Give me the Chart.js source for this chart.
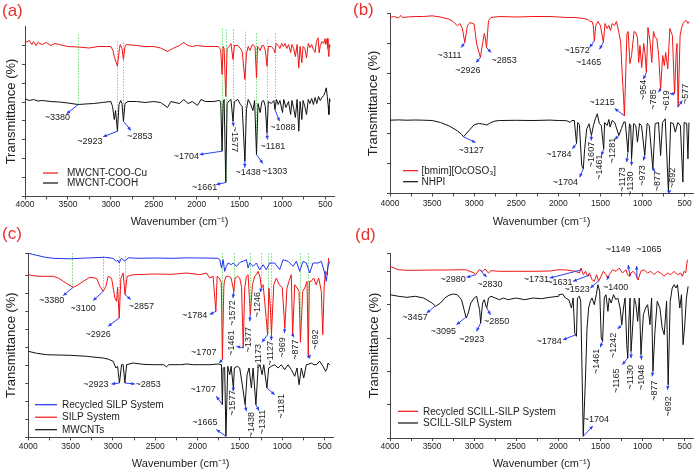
<!DOCTYPE html>
<html>
<head>
<meta charset="utf-8">
<script src="https://cdn.jsdelivr.net/npm/chart.js@4/dist/chart.umd.min.js"></script>
<style>
  body { margin: 0; background: #fff; width: 696px; height: 476px; position: relative; overflow: hidden; }
  canvas { position: absolute; }
</style>
</head>
<body>
<canvas id="pa" width="348" height="238" style="left:0;top:0;width:348px;height:238px"></canvas>
<canvas id="pb" width="348" height="238" style="left:348px;top:0;width:348px;height:238px"></canvas>
<canvas id="pc" width="348" height="250" style="left:0;top:226px;width:348px;height:250px"></canvas>
<canvas id="pd" width="348" height="250" style="left:348px;top:226px;width:348px;height:250px"></canvas>
<script>
// ---- panel (a): [wavenumber, transmittance (arb.)]
const aCu = [[4000,153.7],[3950,156],[3920,152],[3900,155],[3870,151],[3850,154],[3800,152],[3750,154],[3700,151],[3650,153],[3600,152],[3500,150],[3380,149.5],[3250,148.5],[3150,150],[3050,150],[3000,150],[2975,146],[2960,140],[2923,130.3],[2900,148],[2890,152],[2870,148],[2853,137],[2835,150],[2820,152],[2700,151],[2600,150],[2500,150],[2420,148.5],[2340,145],[2280,148],[2200,151],[2150,154],[2100,151],[2050,150],[2000,151],[1900,150],[1800,150],[1750,150],[1720,147],[1704,122],[1692,150],[1680,148],[1661,100],[1645,148],[1620,150],[1600,153],[1577,137],[1560,151],[1520,151],[1490,148],[1470,145],[1438,117],[1420,143],[1400,150],[1380,146],[1350,152],[1320,150],[1303,118.7],[1290,150],[1260,146],[1240,151],[1220,151],[1200,146],[1181,130.3],[1165,150],[1130,150],[1100,147],[1088,143.7],[1075,153],[1050,151],[1030,148],[1010,153],[990,150],[970,153],[950,148],[930,152],[905,144],[890,152],[870,148],[850,140],[830,152],[810,128.7],[795,150],[775,133.7],[760,150],[740,148],[720,138.7],[700,153],[680,149],[660,152],[640,147],[620,144],[605,155],[585,158.7],[573,143.7],[560,151],[540,155],[520,153],[505,157.7],[495,152],[480,158],[470,148],[460,140],[452,152],[445,150]];
const aCooh = [[4000,97.7],[3950,96],[3900,97],[3850,95.5],[3800,96],[3700,95],[3600,94.5],[3500,93.5],[3380,92],[3300,92.5],[3200,93],[3100,94],[3000,95],[2980,90],[2960,77],[2945,86],[2923,65.3],[2905,92],[2885,96],[2870,93],[2853,75.3],[2835,93],[2800,95],[2700,95],[2600,94],[2500,95],[2420,94],[2340,89],[2300,95],[2200,93],[2150,97],[2100,93],[2050,95],[1990,91],[1950,97],[1900,95],[1800,95],[1740,96],[1720,95],[1704,45.3],[1692,93],[1680,97],[1661,14],[1645,93],[1620,96],[1600,97],[1577,75.3],[1560,95],[1520,97],[1490,92],[1470,90],[1438,35.3],[1420,87],[1400,97],[1375,93],[1345,86],[1325,96],[1303,42],[1285,93],[1260,84],[1240,95],[1220,96],[1200,90],[1181,63.7],[1165,95],[1130,93],[1100,96],[1088,87],[1070,97],[1050,92],[1030,96],[1000,84],[985,97],[960,89],[930,95],[905,82],[890,96],[870,88],[850,79],[830,97],[810,65.3],[795,95],[775,77],[760,96],[740,90],[720,82],[700,97],[680,93],[660,98],[640,92],[620,99],[600,93],[580,100],[560,96],[540,99],[520,101],[505,104],[490,108.7],[478,100],[468,91],[460,82],[452,98],[445,95]];
const aGuide = [[3380,162,92],[2923,155,65.3],[2853,154,75.3],[1704,168,45.3],[1661,167,14],[1577,167,75.3],[1438,165,35.3],[1303,163,42],[1181,157,63.7],[1088,163,87]];
// [text, peak wn, peak T, head wn, head T, label wn, label T, rotation]
const aNotes = [
  ['~3380',3380,92,3516,82.7,3624,78.7,0], ['~2923',2923,65.3,3089,59.7,3244,55.3,0],
  ['~2853',2853,75.3,2767,66,2663,60.3,0], ['~1704',1704,45.3,1965,42,2120,40.3,0],
  ['~1661',1661,14,1771,12,1907,8.7,0], ['~1577',1577,75.3,1570,70,1555,57,90],
  ['~1438',1438,35.3,1440,29,1400,23.7,0], ['~1303',1303,42,1229,33,1093,25.3,0],
  ['~1181',1181,63.7,1175,57,1112,50.3,0], ['~1088',1088,87,1035,75.3,996,68.7,0]
];

// ---- panel (b)
const bIl = [[4000,176],[3950,177],[3900,175.5],[3870,178],[3850,176],[3800,176.5],[3700,177],[3600,177],[3500,177.7],[3400,176.5],[3300,174.3],[3250,172],[3200,167.7],[3170,170],[3140,165],[3111,151],[3080,168],[3050,171],[3000,169.3],[2970,149.3],[2945,142],[2926,136],[2900,150],[2880,160],[2870,157],[2853,146],[2830,172.7],[2800,176],[2700,177],[2500,176.5],[2300,177],[2100,177],[2000,176.5],[1900,176],[1800,176],[1700,175],[1650,174],[1620,172],[1600,172],[1585,168],[1572,152.7],[1555,168],[1530,172],[1500,168],[1465,151.4],[1445,170],[1420,165],[1400,168],[1380,163],[1360,170],[1335,168],[1310,172],[1290,165],[1260,152],[1240,118],[1225,96],[1215,77.7],[1200,118],[1185,160],[1170,162],[1150,130],[1130,138],[1100,162],[1080,161],[1060,156],[1045,131],[1030,148],[1010,126],[985,150],[970,140],[954,121],[935,166],[910,152],[890,131],[870,162],[850,156],[830,155],[808,138],[785,104.7],[760,138],[740,128],[725,141],[700,124.7],[675,165],[645,158],[619,99.7],[600,141],[590,150],[577,86.4],[553,158],[535,166],[518,170],[500,172],[478,173],[460,170],[443,172]];
const bNhpi = [[4000,73.3],[3900,73.6],[3800,73.3],[3700,73.5],[3600,73.3],[3500,73],[3400,71],[3300,67.7],[3200,62.7],[3150,59.3],[3127,56.7],[3100,59.3],[3050,64],[3000,68.7],[2950,70],[2900,69.5],[2850,68.5],[2800,71],[2750,72.5],[2700,73],[2500,73.2],[2300,73],[2100,73.4],[2000,73],[1900,72.8],[1860,71],[1840,73],[1810,73],[1784,50],[1770,71],[1750,69],[1722,28],[1704,24.7],[1687,44.7],[1663,64.7],[1635,69.7],[1607,58],[1583,68],[1560,74.7],[1537,79.7],[1513,70],[1490,68],[1461,44.7],[1450,71],[1420,68],[1400,74],[1385,66.4],[1360,73],[1330,71],[1281,58],[1250,65],[1222,71.4],[1205,71.4],[1173,41.4],[1155,69.7],[1140,68],[1130,34.7],[1105,70],[1080,68],[1060,51.4],[1035,70],[1012,68],[973,38],[945,70],[920,68],[877,24.7],[850,69.7],[810,71],[785,38],[762,71],[730,74.7],[692,1.4],[665,71],[635,70],[610,61.4],[580,71],[550,68],[520,11.4],[505,71],[475,70],[460,34.7],[448,71]];
const bNotes = [
  ['~3111',3111,151,3154,146,3292,137.7,0], ['~2926',2926,136,2977,131,3076,122.7,0],
  ['~2853',2853,146,2800,141,2643,133.3,0], ['~1572',1572,152.7,1628,146,1778,142.7,0],
  ['~1465',1465,151.4,1510,144.3,1640,131,0], ['~1215',1215,77.7,1330,85,1480,90.7,0],
  ['~954',954,121,990,114.3,990,103.7,-90], ['~785',785,104.7,810,101.3,869,94,-90],
  ['~619',619,99.7,673,99.7,712,93,-90], ['~577',577,86.4,527,93,488,99.7,-90],
  ['~3127',3127,56.7,2985,51,3036,42.7,0], ['~1784',1784,50,1833,44.7,1994,38.7,0],
  ['~1704',1704,24.7,1746,16.3,1916,11,0], ['~1607',1607,58,1609,53,1609,39,-90],
  ['~1461',1461,44.7,1487,38,1505,26.4,-90], ['~1281',1281,58,1330,54,1353,43,-90],
  ['~1173',1173,41.4,1188,31.4,1235,14,-90], ['~1130',1130,34.7,1130,28,1137,9.7,-90],
  ['~973',973,38,990,33,999,18,-90], ['~877',877,24.7,850,22,822,12.4,-90],
  ['~692',692,1.4,660,3,642,15.7,-90]
];

// ---- panel (c)
const cRec = [[4000,184.3],[3950,183],[3900,182],[3800,180],[3700,179],[3600,178.7],[3500,178.5],[3380,179],[3250,179.5],[3100,180],[3000,179],[2960,176],[2940,177],[2926,174.3],[2900,179],[2857,176],[2820,179.5],[2700,179],[2500,179.3],[2300,179],[2100,179.5],[2000,179.3],[1900,179.3],[1760,179],[1738,177.6],[1718,169.3],[1698,177.6],[1680,166],[1660,171],[1640,174.3],[1600,172.6],[1580,174.3],[1540,171],[1500,175],[1462,176],[1423,177.6],[1403,169.3],[1384,174.3],[1344,171],[1305,174.3],[1266,167.6],[1226,172.6],[1187,167.6],[1148,174.3],[1089,174.3],[1030,167.6],[990,177.6],[931,176],[872,171],[833,176],[793,166],[754,176],[715,174.3],[675,164.3],[636,174.3],[577,174.3],[538,176],[498,164.3],[479,156],[459,171],[440,176]];
const cSilp = [[4000,162.6],[3930,161.5],[3862,161],[3780,161],[3705,161],[3640,159],[3587,156],[3530,153],[3469,150],[3420,152],[3351,156],[3272,160],[3193,159],[3154,151],[3115,146],[3083,151],[3056,161],[3016,159],[2977,139.3],[2957,136],[2945,150],[2926,119.3],[2906,159],[2879,164.3],[2857,142.6],[2832,161],[2761,162.6],[2600,163],[2525,163.3],[2300,163],[2131,164.3],[1975,162.6],[1896,164.3],[1856,159.3],[1817,161],[1784,126],[1769,161],[1745,159.3],[1720,155],[1707,77.7],[1690,150],[1683,156],[1663,161],[1632,161],[1604,159.3],[1572,146],[1557,159.3],[1530,161],[1502,159.3],[1480,150],[1461,89.3],[1443,149.3],[1423,161],[1403,162.6],[1377,122.6],[1352,152.6],[1325,161],[1305,162.6],[1285,166],[1262,160],[1246,149.3],[1226,152.6],[1207,136],[1190,120],[1173,102.6],[1157,149.3],[1140,130],[1127,102.6],[1100,152.6],[1069,159.3],[1037,152.6],[1000,150],[969,109.3],[944,149.3],[920,156],[893,162.6],[877,102.6],[852,152.6],[825,149.3],[801,146],[785,95],[758,146],[734,149.3],[707,156],[692,79.3],[679,156],[656,156],[628,159.3],[600,152.6],[569,159.3],[538,146],[521,102.6],[505,149.3],[490,166],[470,162.6],[451,179.3]];
const cMw = [[4000,86],[3900,84],[3783,82.6],[3650,82.3],[3508,82],[3400,81.5],[3311,81],[3200,80],[3115,79.3],[3050,78],[2997,76],[2965,69.3],[2945,71],[2923,54.3],[2898,72.6],[2879,72.6],[2859,54.3],[2839,72.6],[2761,74.3],[2650,73],[2525,72.6],[2400,72.6],[2367,70.5],[2340,72.6],[2200,72.6],[2131,73.3],[2050,72.6],[1974,72.6],[1900,72.6],[1856,72.6],[1757,73.3],[1718,72.6],[1707,32.6],[1698,69.3],[1680,70],[1665,1],[1643,71],[1620,62.6],[1604,71],[1577,49.3],[1565,69.3],[1530,71],[1502,69.3],[1478,56],[1438,32.6],[1415,62.6],[1392,69.3],[1364,49.3],[1344,69.3],[1311,32.6],[1285,69.3],[1262,72.6],[1238,62.6],[1218,72.6],[1181,49.3],[1160,69.3],[1128,71],[1089,72.6],[1049,69.3],[1010,72.6],[971,67.6],[931,72.6],[892,67.6],[852,61],[825,69.3],[801,52.6],[774,69.3],[746,59.3],[715,72.6],[690,73],[656,74.3],[625,72.6],[597,72.6],[557,76],[518,71],[487,66],[470,69],[459,74.3],[440,72.6]];
const cGuide = [[3480,184,150],[3115,181,146],[2930,181,119.3],[2855,181,142.6],[1707,184,77.7],[1572,184,146],[1377,184,122.6],[1246,184,149.3],[1173,184,102.6],[1127,184,102.6],[785,184,95],[692,184,79.3]];
const cNotes = [
  ['~3380',3469,150,3587,141.7,3725,136.7,0], ['~3100',3115,146,3233,136.7,3351,128.3,0],
  ['~2926',2926,119.3,3056,111,3174,102.7,0], ['~2857',2857,142.6,2789,137.7,2663,130.3,0],
  ['~2923',2923,54.3,3017,53.3,3202,52.7,0], ['~2853',2859,54.3,2741,53.3,2584,52.7,0],
  ['~1784',1784,126,1856,122.7,2034,122,0], ['~1707',1707,77.7,1746,74.3,1927,84.3,0],
  ['~1707',1707,32.6,1778,41,1935,47.7,0], ['~1665',1665,1,1778,7.7,1915,14.3,0],
  ['~1572',1572,146,1581,139.3,1593,124.3,-90], ['~1461',1461,89.3,1541,91,1600,94.3,-90],
  ['~1377',1377,122.6,1384,116,1396,97.6,-90], ['~1246',1246,149.3,1262,145,1296,132.6,-90],
  ['~1173',1173,102.6,1240,95,1275,81,-90], ['~1127',1127,102.6,1130,97,1140,84,-90],
  ['~969',969,109.3,975,104.3,998,90,-90], ['~877',877,102.6,860,100,845,87.6,-90],
  ['~692',692,79.3,664,82.6,609,97.6,-90], ['~1577',1577,49.3,1580,46,1593,34.3,-90],
  ['~1438',1438,32.6,1423,26,1357,12.6,-90], ['~1311',1311,32.6,1274,26.6,1227,15.3,-90],
  ['~1181',1181,49.3,1089,42.6,1010,31,-90]
];

// ---- panel (d)
const dRec = [[4000,171.7],[3950,170],[3900,168.3],[3800,167.7],[3700,167.7],[3500,168],[3300,168],[3100,168.3],[3050,166.7],[3000,165],[2980,163.3],[2960,166],[2940,168.3],[2900,166.7],[2870,169],[2830,165],[2800,167.3],[2700,166.7],[2500,166.7],[2300,166.7],[2100,167],[1994,168.3],[1900,168],[1797,166.7],[1750,165],[1731,170],[1702,163.3],[1678,166.7],[1651,161.7],[1631,165],[1600,158.3],[1572,156.7],[1545,163.3],[1521,156.7],[1493,161.7],[1465,166.7],[1434,163.3],[1414,160],[1395,163.3],[1355,168.3],[1316,166.7],[1277,170],[1237,165],[1198,168.3],[1178,163.3],[1149,161.7],[1139,165],[1111,166.7],[1079,163.3],[1065,160],[1052,158],[1020,166.7],[981,168.3],[941,165],[902,166.7],[862,163.3],[823,166.7],[783,165],[744,161.7],[704,165],[665,163.3],[625,166.7],[586,163.3],[546,165],[526,161.7],[507,166.7],[487,165],[467,178.3]];
const dScill = [[4000,143.3],[3900,141.7],[3800,140.7],[3700,141.7],[3600,140],[3500,135],[3457,131.7],[3400,135],[3350,140],[3300,142.7],[3250,144],[3200,143.3],[3150,138.3],[3120,128.3],[3095,120],[3070,125],[3040,135],[3000,140],[2970,141.7],[2950,133.3],[2935,128.3],[2923,115],[2900,135],[2880,138.3],[2860,131.7],[2850,130],[2830,140],[2800,141.7],[2700,138.3],[2650,140],[2600,138.3],[2500,140],[2400,138.3],[2300,140],[2200,139.3],[2100,140.7],[2000,141.7],[1994,143.3],[1950,144],[1915,140],[1876,138.3],[1844,130],[1824,140],[1805,105],[1785,101.7],[1773,140],[1750,141.7],[1734,136.7],[1704,1.7],[1679,56.7],[1659,110],[1640,130],[1620,136.7],[1600,140],[1573,133.3],[1549,143.3],[1529,153.3],[1509,146.7],[1490,100],[1474,96.7],[1454,140],[1434,143.3],[1411,126.7],[1395,140],[1372,135],[1344,143.3],[1317,138.3],[1293,140],[1266,130],[1246,113.3],[1226,130],[1207,140],[1187,93.3],[1175,80],[1160,120],[1148,140],[1136,86.7],[1120,106.7],[1097,140],[1077,133.3],[1057,116.7],[1038,140],[1018,83.3],[990,123.3],[963,130],[939,133.3],[911,113.3],[892,140],[876,66.7],[852,106.7],[825,136.7],[793,130],[766,110],[742,103.3],[714,136.7],[695,53.3],[671,136.7],[647,150],[624,153.3],[604,150],[584,153.3],[557,130],[537,143.3],[518,93.3],[498,113.3],[478,140],[458,151.7]];
const dNotes = [
  ['~2980',2980,163.3,3090,160.7,3249,158.3,0], ['~2830',2930,168,2853,161,2813,153.3,0],
  ['~1731',1731,168,2102,160,2260,158.3,0], ['~1631',1631,163,1825,156.7,1983,155.7,0],
  ['~1523',1523,157,1620,150,1778,148,0], ['~1400',1400,162,1424,158.3,1320,150.7,0],
  ['~1149',1149,161.7,1170,173,1290,188.5,0], ['~1065',1065,160,1070,172,925,188.5,0],
  ['~3457',3466,131.7,3565,125,3703,120,0], ['~3095',3110,120,3209,113.3,3367,106.7,0],
  ['~2923',2923,115,2972,106.7,3031,98.3,0], ['~2850',2850,130,2806,123.3,2734,116.7,0],
  ['~1784',1790,103.3,1943,98.3,2110,96,0], ['~1704',1704,1.7,1590,12,1548,18.3,0],
  ['~1461',1474,96.7,1502,90.7,1542,76.7,-90], ['~1242',1246,113.3,1294,109,1345,92.7,-90],
  ['~1165',1175,80,1239,73.3,1306,57.3,-90], ['~1130',1136,86.7,1136,80,1148,60.7,-90],
  ['~1046',1018,83.3,1011,78.3,1011,60.7,-90], ['~877',876,66.7,885,61.7,853,47.3,-90],
  ['~692',695,53.3,704,48.3,696,31.7,-90]
];

const FONT = "'Liberation Sans', Arial, Helvetica, sans-serif";
const RED = '#f21414', BLACK = '#111111', BLUE = '#1f33f0', ARROW = '#2b40f2';

function arrow(ctx, x0, y0, x1, y1) {
    ctx.beginPath();
    ctx.moveTo(x0, y0);
    ctx.lineTo(x1, y1);
    ctx.stroke();
    const a = Math.atan2(y1 - y0, x1 - x0), s = 4;
    ctx.beginPath();
    ctx.moveTo(x1, y1);
    ctx.lineTo(x1 - s * Math.cos(a - 0.45), y1 - s * Math.sin(a - 0.45));
    ctx.lineTo(x1 - s * Math.cos(a + 0.45), y1 - s * Math.sin(a + 0.45));
    ctx.closePath();
    ctx.fill();
}

// guide lines, arrows, peak labels, legend and panel letter
const decor = {
    id: 'decor',
    beforeDatasetsDraw(chart, args, opt) {
        const { ctx, scales: { x, y } } = chart;
        ctx.save();
        ctx.strokeStyle = '#6ee06e';
        ctx.lineWidth = 1;
        ctx.setLineDash([1.5, 1.5]);
        (opt.guides || []).forEach(g => {
            const px = Math.round(x.getPixelForValue(g[0])) + 0.5;
            ctx.beginPath();
            ctx.moveTo(px, y.getPixelForValue(g[1]));
            ctx.lineTo(px, y.getPixelForValue(g[2]));
            ctx.stroke();
        });
        ctx.restore();
    },
    afterDatasetsDraw(chart, args, opt) {
        const { ctx, scales: { x, y } } = chart;
        ctx.save();
        ctx.strokeStyle = ARROW;
        ctx.fillStyle = ARROW;
        ctx.lineWidth = 1;
        opt.notes.forEach(n => {
            arrow(ctx, x.getPixelForValue(n[1]), y.getPixelForValue(n[2]),
                       x.getPixelForValue(n[3]), y.getPixelForValue(n[4]));
        });
        ctx.fillStyle = '#222';
        ctx.font = '9px ' + FONT;
        ctx.textAlign = 'center';
        ctx.textBaseline = 'middle';
        opt.notes.forEach(n => {
            ctx.save();
            ctx.translate(x.getPixelForValue(n[5]), y.getPixelForValue(n[6]));
            ctx.rotate(n[7] * Math.PI / 180);
            ctx.fillText(n[0], 0, 0);
            ctx.restore();
        });

        // legend
        const L = opt.legend;
        ctx.textAlign = 'left';
        ctx.font = '10px ' + FONT;
        chart.data.datasets.forEach((ds, i) => {
            const yy = L.y + i * L.dy;
            ctx.strokeStyle = ds.borderColor;
            ctx.lineWidth = 1.2;
            ctx.beginPath();
            ctx.moveTo(L.x, yy);
            ctx.lineTo(L.x + L.len, yy);
            ctx.stroke();
            ctx.fillStyle = '#222';
            ctx.fillText(ds.label, L.x + L.len + L.gap, yy + 0.5);
        });

        // panel letter
        ctx.fillStyle = '#e8302c';
        ctx.font = '17px ' + FONT;
        ctx.fillText(opt.letter[0], opt.letter[1], opt.letter[2]);
        ctx.restore();
    }
};

function panel(id, o) {
    new Chart(document.getElementById(id), {
        type: 'line',
        data: {
            datasets: o.series.map(s => ({
                label: s[0],
                data: s[1].map(p => ({ x: p[0], y: p[1] })),
                borderColor: s[2],
                borderWidth: 1,
                pointRadius: 0,
                tension: 0,
                fill: false
            }))
        },
        options: {
            responsive: false,
            animation: false,
            devicePixelRatio: 1,
            layout: { padding: { left: o.pl, top: o.top, right: o.pr, bottom: o.pb } },
            plugins: {
                legend: { display: false },
                tooltip: { enabled: false },
                decor: { guides: o.guides, notes: o.notes, legend: o.legend, letter: o.letter }
            },
            scales: {
                x: {
                    type: 'linear',
                    reverse: true,
                    min: 400,
                    max: 4000,
                    afterFit: s => { s.height = o.xh; },
                    ticks: {
                        stepSize: 250,
                        autoSkip: false,
                        includeBounds: false,
                        maxRotation: 0,
                        padding: o.tp,
                        color: '#222',
                        font: { family: FONT, size: 8.5 },
                        callback: v => (v % 500 === 0 ? String(v) : '')
                    },
                    grid: { drawOnChartArea: false, tickLength: 3, color: '#444' },
                    border: { color: '#444' },
                    title: { display: true, text: 'Wavenumber (cm⁻¹)', color: '#222',
                             font: { family: FONT, size: 11 }, padding: { top: 0, bottom: 0 } }
                },
                y: {
                    min: 0,
                    max: o.ymax,
                    afterFit: s => { s.width = o.yw; },
                    ticks: { stepSize: o.ystep, padding: 0, callback: () => '' },
                    grid: { drawOnChartArea: false, tickLength: 3, color: '#444' },
                    border: { color: '#444' },
                    title: { display: true, text: 'Transmittance (%)', color: '#222',
                             font: { family: FONT, size: 13 }, padding: { top: 0, bottom: 0 } }
                }
            }
        },
        plugins: [decor]
    });
}

panel('pa', {
    series: [['MWCNT-COO-Cu', aCu, RED], ['MWCNT-COOH', aCooh, BLACK]],
    guides: aGuide, notes: aNotes,
    pl: 4, yw: 21, top: 26.5, pr: 14, pb: 9.4, xh: 32.1, tp: 0, ymax: 170, ystep: 6.3,
    legend: { x: 43, y: 173, len: 15, gap: 9, dy: 10 },
    letter: ['(a)', 2, 11]
});
panel('pb', {
    series: [['[bmim][OcOSO₃]', bIl, RED], ['NHPI', bNhpi, BLACK]],
    guides: [], notes: bNotes,
    pl: 18, yw: 24, top: 13.5, pr: 3, pb: 9.4, xh: 35.1, tp: 1.9, ymax: 180, ystep: 15,
    legend: { x: 55, y: 170.7, len: 15, gap: 3.5, dy: 11 },
    letter: ['(b)', 5, 10.5]
});
panel('pc', {
    series: [['Recycled SILP System', cRec, BLUE], ['SILP System', cSilp, RED], ['MWCNTs', cMw, BLACK]],
    guides: cGuide, notes: cNotes,
    pl: 3.2, yw: 25.1, top: 27, pr: 15, pb: 5.4, xh: 33.3, tp: 1.6, ymax: 184.3, ystep: 18,
    legend: { x: 35, y: 178.7, len: 22, gap: 5, dy: 12.5 },
    letter: ['(c)', 2, 8.5]
});
panel('pd', {
    series: [['Recycled SCILL-SILP System', dRec, RED], ['SCILL-SILP System', dScill, BLACK]],
    guides: [], notes: dNotes,
    pl: 18.9, yw: 23.1, top: 27, pr: 3, pb: 5.4, xh: 32.6, tp: 0.5, ymax: 185, ystep: 33.33,
    legend: { x: 50, y: 185.3, len: 20, gap: 5, dy: 11.7 },
    letter: ['(d)', 7, 9]
});
</script>
</body>
</html>
